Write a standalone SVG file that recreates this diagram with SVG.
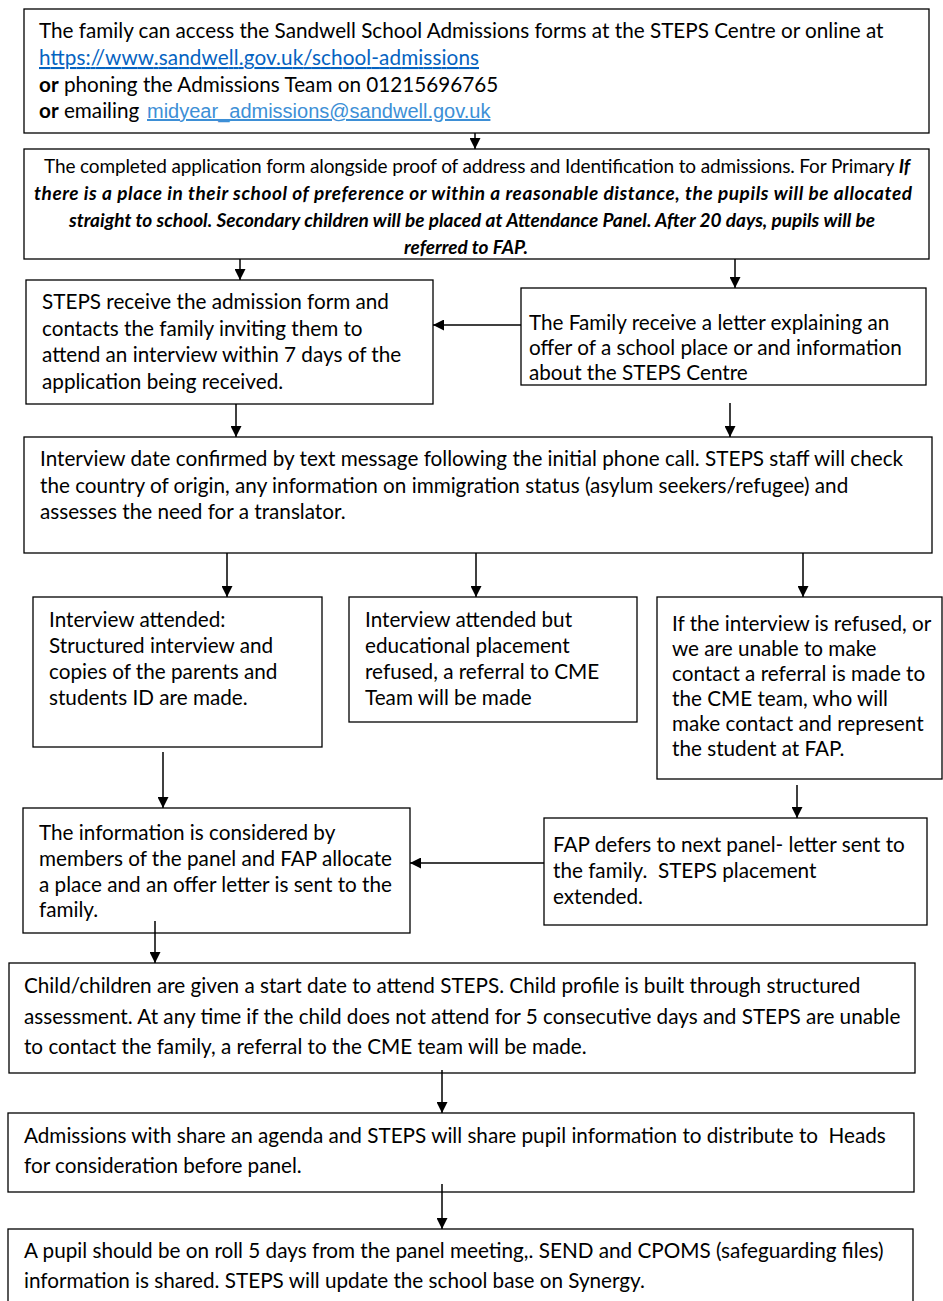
<svg xmlns="http://www.w3.org/2000/svg" width="943" height="1301" viewBox="0 0 943 1301">
<defs>
<style>
.box{fill:#fff;stroke:#000;stroke-width:1.3}
.t{font-family:Lato,"Liberation Sans",sans-serif;font-size:20.7px;fill:#000;white-space:pre}
.s{font-family:Lato,"Liberation Sans",sans-serif;font-size:19px;fill:#000;white-space:pre}
.bi{font-weight:bold;font-style:italic}
.b{font-weight:bold}
.url{fill:#0563C1;text-decoration:underline}
.mail{font-family:"Liberation Sans",Arial,sans-serif;font-size:20px;fill:#3d8fd6;text-decoration:underline}
.c{fill:none;stroke:#000;stroke-width:1.5;marker-end:url(#ah)}
</style>
<marker id="ah" markerUnits="userSpaceOnUse" markerWidth="11" markerHeight="11" viewBox="0 0 10 10" refX="10" refY="5" orient="auto">
<path d="M0,0 L10,5 L0,10 z" fill="#000"/>
</marker>
</defs>
<rect width="943" height="1301" fill="#fff"/>

<g id="n1">
<rect class="box" x="24" y="9" width="905" height="124"/>
<text class="t" x="39" y="38">The family can access the Sandwell School Admissions forms at the STEPS Centre or online at</text>
<text class="t url" x="39" y="65" textLength="440">https://www.sandwell.gov.uk/school-admissions</text>
<text class="t" x="39" y="92"><tspan class="b">or</tspan> phoning the Admissions Team on 01215696765</text>
<text class="t" x="39" y="118"><tspan class="b">or</tspan> emailing </text>
<text class="mail" x="147" y="118">midyear_admissions@sandwell.gov.uk</text>
</g>

<g id="n2">
<rect class="box" x="24" y="149" width="905" height="110"/>
<text class="s" x="477" y="173" text-anchor="middle" textLength="866">The completed application form alongside proof of address and Identification to admissions. For Primary <tspan class="bi">If</tspan></text>
<text class="s bi" x="473" y="200" text-anchor="middle" textLength="878">there is a place in their school of preference or within a reasonable distance, the pupils will be allocated</text>
<text class="s bi" x="472" y="227" text-anchor="middle" textLength="806">straight to school. Secondary children will be placed at Attendance Panel. After 20 days, pupils will be</text>
<text class="s bi" x="466" y="254" text-anchor="middle">referred to FAP.</text>
</g>

<g id="n3">
<rect class="box" x="26" y="280" width="407" height="124"/>
<text class="t" x="42" y="309">STEPS receive the admission form and</text>
<text class="t" x="42" y="336">contacts the family inviting them to</text>
<text class="t" x="42" y="362">attend an interview within 7 days of the</text>
<text class="t" x="42" y="389">application being received.</text>
</g>

<g id="n4">
<rect class="box" x="521" y="288" width="405" height="97"/>
<text class="t" x="529" y="330">The Family receive a letter explaining an</text>
<text class="t" x="529" y="355">offer of a school place or and information</text>
<text class="t" x="529" y="380">about the STEPS Centre</text>
</g>

<g id="n5">
<rect class="box" x="24" y="437" width="908" height="116"/>
<text class="t" x="40" y="466">Interview date confirmed by text message following the initial phone call. STEPS staff will check</text>
<text class="t" x="40" y="493">the country of origin, any information on immigration status (asylum seekers/refugee) and</text>
<text class="t" x="40" y="519">assesses the need for a translator.</text>
</g>

<g id="n6">
<rect class="box" x="33" y="597" width="289" height="150"/>
<text class="t" x="49" y="627">Interview attended:</text>
<text class="t" x="49" y="653">Structured interview and</text>
<text class="t" x="49" y="679">copies of the parents and</text>
<text class="t" x="49" y="705">students ID are made.</text>
</g>

<g id="n7">
<rect class="box" x="349" y="597" width="288" height="125"/>
<text class="t" x="365" y="627">Interview attended but</text>
<text class="t" x="365" y="653">educational placement</text>
<text class="t" x="365" y="679">refused, a referral to CME</text>
<text class="t" x="365" y="705">Team will be made</text>
</g>

<g id="n8">
<rect class="box" x="657" y="597" width="285" height="182"/>
<text class="t" x="672" y="631">If the interview is refused, or</text>
<text class="t" x="672" y="656">we are unable to make</text>
<text class="t" x="672" y="681">contact a referral is made to</text>
<text class="t" x="672" y="706">the CME team, who will</text>
<text class="t" x="672" y="731">make contact and represent</text>
<text class="t" x="672" y="756">the student at FAP.</text>
</g>

<g id="n9">
<rect class="box" x="23" y="808" width="387" height="125"/>
<text class="t" x="39" y="840">The information is considered by</text>
<text class="t" x="39" y="866">members of the panel and FAP allocate</text>
<text class="t" x="39" y="892">a place and an offer letter is sent to the</text>
<text class="t" x="39" y="917">family.</text>
</g>

<g id="n10">
<rect class="box" x="544" y="818" width="383" height="107"/>
<text class="t" x="553" y="852">FAP defers to next panel- letter sent to</text>
<text class="t" x="553" y="878">the family.  STEPS placement</text>
<text class="t" x="553" y="904">extended.</text>
</g>

<g id="n11">
<rect class="box" x="9" y="963" width="906" height="110"/>
<text class="t" x="24" y="993">Child/children are given a start date to attend STEPS. Child profile is built through structured</text>
<text class="t" x="24" y="1024">assessment. At any time if the child does not attend for 5 consecutive days and STEPS are unable</text>
<text class="t" x="24" y="1054">to contact the family, a referral to the CME team will be made.</text>
</g>

<g id="n12">
<rect class="box" x="8" y="1113" width="906" height="79"/>
<text class="t" x="24" y="1143">Admissions with share an agenda and STEPS will share pupil information to distribute to  Heads</text>
<text class="t" x="24" y="1173">for consideration before panel.</text>
</g>

<g id="n13">
<rect class="box" x="8" y="1229" width="905" height="90"/>
<text class="t" x="24" y="1258">A pupil should be on roll 5 days from the panel meeting,. SEND and CPOMS (safeguarding files)</text>
<text class="t" x="24" y="1288">information is shared. STEPS will update the school base on Synergy.</text>
</g>

<g id="connectors">
<line class="c" x1="475" y1="133" x2="475" y2="149"/>
<line class="c" x1="240" y1="259" x2="240" y2="280"/>
<line class="c" x1="735" y1="259" x2="735" y2="288"/>
<line class="c" x1="521" y1="325" x2="433" y2="325"/>
<line class="c" x1="236" y1="404" x2="236" y2="437"/>
<line class="c" x1="730" y1="403" x2="730" y2="437"/>
<line class="c" x1="227" y1="553" x2="227" y2="597"/>
<line class="c" x1="476" y1="553" x2="476" y2="597"/>
<line class="c" x1="803" y1="553" x2="803" y2="597"/>
<line class="c" x1="163" y1="752" x2="163" y2="808"/>
<line class="c" x1="797" y1="785" x2="797" y2="818"/>
<line class="c" x1="544" y1="863" x2="410" y2="863"/>
<line class="c" x1="155" y1="921" x2="155" y2="963"/>
<line class="c" x1="442" y1="1070" x2="442" y2="1113"/>
<line class="c" x1="442" y1="1184" x2="442" y2="1229"/>
</g>
</svg>
